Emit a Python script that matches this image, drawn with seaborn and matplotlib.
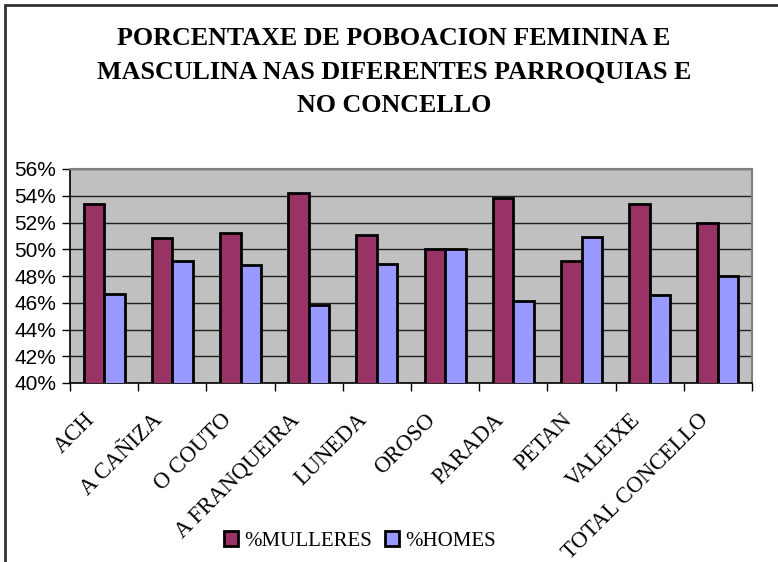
import matplotlib
matplotlib.use("Agg")
import matplotlib.pyplot as plt
import matplotlib.patches as mpatches
import matplotlib.transforms as mtransforms
import seaborn as sns
import pandas as pd
import numpy as np

categories = ["ACH", "A CAÑIZA", "O COUTO", "A FRANQUEIRA", "LUNEDA",
              "OROSO", "PARADA", "PETAN", "VALEIXE", "TOTAL CONCELLO"]
mulleres = [53.35, 50.85, 51.2, 54.2, 51.1, 50.0, 53.85, 49.1, 53.4, 52.0]
homes = [46.65, 49.15, 48.8, 45.8, 48.9, 50.0, 46.15, 50.9, 46.6, 48.0]
series = ["%MULLERES", "%HOMES"]
colors = ["#993366", "#9999FF"]
yticks = [40, 42, 44, 46, 48, 50, 52, 54, 56]
title = "PORCENTAXE DE POBOACION FEMININA E\nMASCULINA NAS DIFERENTES PARROQUIAS E\nNO CONCELLO"

df = pd.DataFrame({
    "cat": categories * 2,
    "serie": [series[0]] * len(categories) + [series[1]] * len(categories),
    "val": mulleres + homes,
})

sns.set_style("white")
plt.rcParams["font.family"] = ["Liberation Serif", "DejaVu Serif"]
plt.rcParams["text.color"] = "black"
plt.rcParams["xtick.color"] = "black"
plt.rcParams["ytick.color"] = "black"

W, H = 778, 562
fig = plt.figure(figsize=(W / 100, H / 100), dpi=100)
ax = fig.add_axes([70 / W, 1 - 383 / H, (752 - 70) / W, (383 - 169) / H])

sns.barplot(data=df, x="cat", y="val", hue="serie", palette=colors,
            width=0.6, edgecolor="black", linewidth=2.0, ax=ax,
            legend=False, saturation=1, zorder=3)

ax.set_facecolor("#C0C0C0")
ax.set_ylim(40, 56)
ax.set_xlim(-0.5, len(categories) - 0.5)
ax.set_yticks(yticks)
ax.set_yticklabels([f"{v}%" for v in yticks], family="Liberation Sans", fontsize=15)
ax.yaxis.grid(True, color="#202020", linewidth=1.0, zorder=0)
ax.set_axisbelow(True)

# major ticks at category boundaries (no labels), minor ticks at centers with labels
ax.set_xticks(np.arange(-0.5, len(categories), 1.0))
ax.set_xticklabels([])
ax.set_xticks(np.arange(len(categories)), minor=True)
ax.set_xticklabels(categories, minor=True, rotation=45, ha="right",
                   rotation_mode="anchor", fontsize=16.3)
ax.tick_params(axis="x", which="major", length=6, width=1, color="black", direction="out", bottom=True)
ax.tick_params(axis="x", which="minor", length=0, pad=19)
ax.tick_params(axis="y", length=6, width=1, color="black", direction="out", left=True, pad=4)
offset = mtransforms.ScaledTranslation(-20 / 100, 0, fig.dpi_scale_trans)
for lbl in ax.get_xticklabels(minor=True):
    lbl.set_transform(lbl.get_transform() + offset)

ax.set_xlabel("")
ax.set_ylabel("")
for s in ["top", "right"]:
    ax.spines[s].set_color("#808080")
    ax.spines[s].set_linewidth(1.5)
for s in ["left", "bottom"]:
    ax.spines[s].set_color("black")
    ax.spines[s].set_linewidth(1.2)
for s in ax.spines.values():
    s.set_visible(True)

fig.text(394 / W, 1 - 72 / H, title, ha="center", va="center", fontsize=18.7,
         fontweight="bold", linespacing=1.6, color="black")

handles = [mpatches.Patch(facecolor=c, edgecolor="black", linewidth=2, label=s)
           for c, s in zip(colors, series)]
fig.legend(handles=handles, loc="center", bbox_to_anchor=(360 / W, 1 - 541 / H),
           ncol=2, frameon=False, fontsize=15, handlelength=0.7, handleheight=0.7,
           handletextpad=0.3, columnspacing=0.6)

# outer chart border (left and top visible; extends past right/bottom edges)
fig.add_artist(mpatches.Rectangle((5 / W, -0.05), 1.2, 1 - 5 / H + 0.05,
                                  transform=fig.transFigure, fill=False,
                                  edgecolor="#333333", linewidth=2))

fig.savefig("out.png", dpi=100)
